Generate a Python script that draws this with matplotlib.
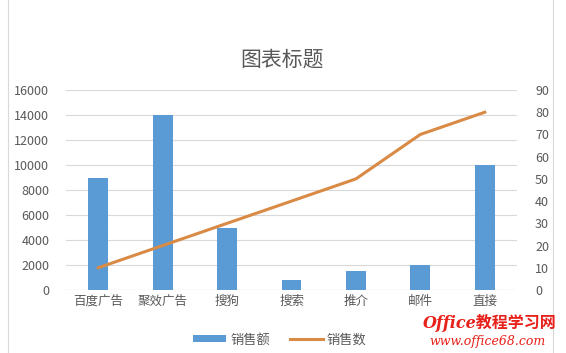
import numpy as np
import matplotlib.pyplot as plt

plt.rcParams['font.family'] = ['Noto Sans CJK SC', 'DejaVu Sans']

categories = ['百度广告', '聚效广告', '搜狗', '搜索', '推介', '邮件', '直接']
sales_amount = [9000, 14000, 5000, 800, 1500, 2000, 10000]
sales_count = [10, 20, 30, 40, 50, 70, 80]
left_ticks = list(range(0, 16001, 2000))
right_ticks = list(range(0, 91, 10))

gray = '#595959'
fig = plt.figure(figsize=(5.66, 3.53), dpi=100)
ax = fig.add_axes([66 / 566, 1 - 290 / 353, (517 - 66) / 566, 200 / 353])
x = np.arange(len(categories))
ax.bar(x, sales_amount, width=0.31, color='#5B9BD5', label='销售额', zorder=2)
ax.set_xlim(-0.5, len(categories) - 0.5)
ax.set_ylim(0, 16000)
ax.set_yticks(left_ticks)
ax.set_xticks(x)
ax.set_xticklabels(categories)
ax.yaxis.grid(True, color='#D9D9D9', lw=0.8, zorder=0)
ax.tick_params(axis='both', length=0, colors=gray, labelsize=9)
ax.tick_params(axis='y', pad=12)
for s in ax.spines.values():
    s.set_visible(False)
ax.axhline(0, color='#BFBFBF', lw=0.8, zorder=1)

ax2 = ax.twinx()
ax2.plot(x, sales_count, color='#D98A45', lw=2.2, label='销售数', zorder=3)
ax2.set_ylim(0, 90)
ax2.set_yticks(right_ticks)
ax2.tick_params(axis='y', length=0, colors=gray, labelsize=9, pad=13)
for s in ax2.spines.values():
    s.set_visible(False)

fig.text(282 / 566, 1 - 60 / 353, '图表标题', ha='center', va='center',
         fontsize=15, color=gray)

h1, l1 = ax.get_legend_handles_labels()
h2, l2 = ax2.get_legend_handles_labels()
fig.legend(h1 + h2, l1 + l2, loc='center', bbox_to_anchor=(280 / 566, 1 - 340 / 353),
           ncol=2, frameon=False, fontsize=9.5, labelcolor=gray,
           handlelength=2.5, handleheight=0.4, columnspacing=1.5, handletextpad=0.3)

# sheet borders behind the chart
fig.add_artist(plt.Line2D([8 / 566, 8 / 566], [0, 1], color='#D9D9D9', lw=0.8))
fig.add_artist(plt.Line2D([553 / 566, 553 / 566], [0, 1], color='#D9D9D9', lw=0.8))

fig.text(490 / 566, 1 - 323 / 353, 'Office教程学习网', ha='center', va='center',
         fontsize=11.5, color='#E8201A', style='italic', weight='bold',
         family=['DejaVu Serif', 'Noto Sans CJK SC'])
fig.text(487 / 566, 1 - 341 / 353, 'www.office68.com', ha='center', va='center',
         fontsize=9, color='#E8201A', style='italic', family='DejaVu Serif')

fig.savefig('out.png', dpi=100)
